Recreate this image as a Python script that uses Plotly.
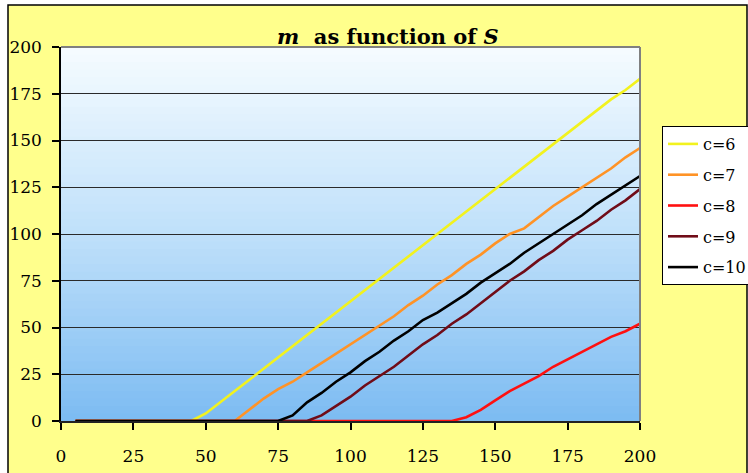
import plotly.graph_objects as go

S = list(range(5, 205, 5))

m_c6 = [0,0,0,0,0,0,0,0,0, 4,10,16,22,28,34,40,46,52,58,64,70,76,82,88,94,100,106,112,118,124,130,136,142,148,154,160,166,172,177,183]
m_c7 = [0,0,0,0,0,0,0,0,0,0,0,0, 6,12,17,21,26,31,36,41,46,51,56,62,67,73,78,84,89,95,100,103,109,115,120,125,130,135,141,146]
m_c8 = [0]*27 + [2,6,11,16,20,24,29,33,37,41,45,48,52]
m_c9 = [0]*17 + [3,8,13,19,24,29,35,41,46,52,57,63,69,75,80,86,91,97,102,107,113,118,124]
m_c10 = [0]*15 + [3,10,15,21,26,32,37,43,48,54,58,63,68,74,79,84,90,95,100,105,110,116,121,126,131]

series = [("c=6", m_c6, "#f2f21e"), ("c=7", m_c7, "#ff9326"), ("c=8", m_c8, "#ff1010"),
          ("c=9", m_c9, "#700c18"), ("c=10", m_c10, "#000000")]

x_ticks = [0, 25, 50, 75, 100, 125, 150, 175, 200]
y_ticks = [0, 25, 50, 75, 100, 125, 150, 175, 200]

FONT = "DejaVu Serif"

fig = go.Figure()
for i, (name, vals, col) in enumerate(series):
    fig.add_trace(go.Scatter(x=S, y=vals, mode="lines", name=name, legendgroup=name,
                             line=dict(color=col, width=2.6), cliponaxis=False))

W, H = 748, 473
L, R, T, B = 61, 108, 47, 52
pw, ph = W - L - R, H - T - B

def lerp(c1, c2, t):
    return tuple(round(a + (b - a) * t) for a, b in zip(c1, c2))

bottom = (0x7c, 0xbb, 0xf2)
mid = (0xbf, 0xe0, 0xfa)
top = (0xf6, 0xfc, 0xff)
shapes = []
N = 50
for k in range(N):
    t = (k + 0.5) / N
    c = lerp(bottom, mid, t / 0.5) if t < 0.5 else lerp(mid, top, (t - 0.5) / 0.5)
    shapes.append(dict(type="rect", xref="x", yref="y", x0=0, x1=200,
                       y0=200 * k / N, y1=200 * (k + 1) / N + 0.5,
                       fillcolor="rgb(%d,%d,%d)" % c, line=dict(width=0), layer="below"))

def px2x(px):
    return (px - L) / pw

def py2y(py):
    return (H - B - py) / ph

shapes.insert(0, dict(type="rect", xref="paper", yref="paper",
                      x0=px2x(8), x1=px2x(747), y0=py2y(490), y1=py2y(5),
                      fillcolor="#ffff8c", line=dict(color="black", width=1.5), layer="below"))
shapes.append(dict(type="line", xref="paper", yref="paper", x0=0, x1=1, y0=1, y1=1,
                   line=dict(color="#808080", width=2), layer="above"))
shapes.append(dict(type="line", xref="paper", yref="paper", x0=1, x1=1, y0=0, y1=1,
                   line=dict(color="#808080", width=2), layer="above"))

fig.update_layout(
    width=W, height=H,
    margin=dict(l=L, r=R, t=T, b=B, autoexpand=False),
    paper_bgcolor="white",
    plot_bgcolor="rgba(0,0,0,0)",
    font=dict(family=FONT, size=17, color="black"),
    shapes=shapes,
    showlegend=True,
    legend=dict(x=px2x(662), y=py2y(126), xanchor="left", yanchor="top",
                bgcolor="white", bordercolor="black", borderwidth=1,
                font=dict(family=FONT, size=16, color="black"),
                traceorder="grouped", tracegroupgap=7),
    annotations=[dict(text="<b><i>m</i>&nbsp; as function of <i>S</i></b>",
                      xref="paper", yref="paper", x=px2x(388), y=py2y(37),
                      xanchor="center", yanchor="middle", showarrow=False,
                      font=dict(family=FONT, size=21, color="black"))],
    xaxis=dict(range=[0, 200], tickvals=x_ticks, ticktext=[str(v) for v in x_ticks],
               showgrid=False, zeroline=False, showline=True, linecolor="#222222", linewidth=1.5,
               ticks="outside", ticklen=7, tickcolor="black", tickwidth=1.5,
               ticklabelstandoff=12, tickfont=dict(family=FONT, size=17)),
    yaxis=dict(range=[0, 200], tickvals=y_ticks, ticktext=[str(v) for v in y_ticks],
               showgrid=True, gridcolor="#2a2a2a", gridwidth=1.3, zeroline=False,
               showline=True, linecolor="black", linewidth=1.5,
               ticks="outside", ticklen=7, tickcolor="black", tickwidth=1.5,
               ticklabelstandoff=7, tickfont=dict(family=FONT, size=17)),
)

fig.write_html("out.html")
